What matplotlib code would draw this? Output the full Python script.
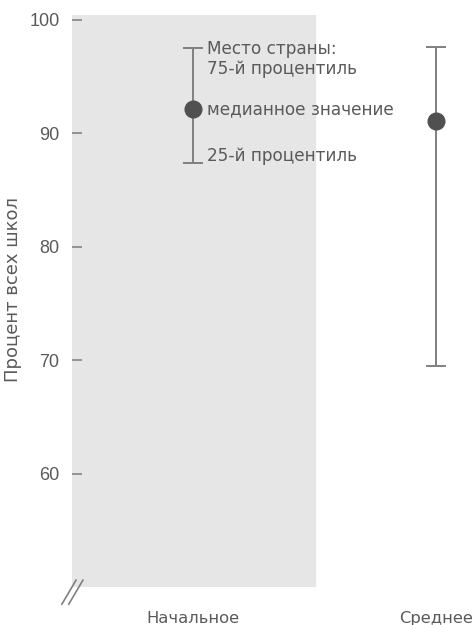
import matplotlib.pyplot as plt

plt.rcParams['font.family'] = ['Liberation Sans', 'DejaVu Sans']

levels = ['Начальное', 'Среднее']
p75 = [97.5, 97.6]
median = [92.1, 91.1]
p25 = [87.4, 69.5]

yticks = [60, 70, 80, 90, 100]

gray_text = '#5a5a5a'
gray_line = '#808080'
dot_color = '#505050'
wide = ['DejaVu Sans']

fig = plt.figure(figsize=(4.76, 6.25), dpi=100)
ax = fig.add_axes([72 / 476, 38 / 625, 404 / 476, 572 / 625])

x = list(range(len(levels)))

# shaded band behind the first category
ax.axvspan(-0.5, 0.5, color='#e6e6e6', zorder=0)

for i in x:
    ax.errorbar(i, median[i], yerr=[[median[i] - p25[i]], [p75[i] - median[i]]],
                fmt='o', color=gray_line, ecolor=gray_line, elinewidth=1.4,
                capsize=7.5, capthick=1.4, markersize=12,
                markerfacecolor=dot_color, markeredgecolor=dot_color, zorder=3)

# legend-like notes next to the first whisker
note = dict(textcoords='offset points', fontsize=12.2, color=gray_text,
            ha='left', va='center', family=wide)
ax.annotate('Место страны:', (0, p75[0]), xytext=(10, -0.5), **note)
ax.annotate('75-й процентиль', (0, p75[0]), xytext=(10, -15), **note)
ax.annotate('медианное значение', (0, median[0]), xytext=(10, 0), **note)
ax.annotate('25-й процентиль', (0, p25[0]), xytext=(10, 5), **note)

ax.set_xlim(-0.5, 1.165)
ax.set_ylim(50, 100.4)
ax.set_yticks(yticks)
ax.set_yticklabels([str(t) for t in yticks])
ax.set_xticks(x)
ax.set_xticklabels(levels, family=wide)

for s in ax.spines.values():
    s.set_visible(False)

ax.tick_params(axis='y', direction='in', length=7.5, width=1.3, color='#8c8c8c',
               labelsize=13, labelcolor=gray_text, pad=9)
ax.tick_params(axis='x', length=0, labelsize=11.8, labelcolor=gray_text, pad=17)

ax.set_ylabel('Процент всех школ', fontsize=13, color=gray_text, family=wide)
ax.yaxis.set_label_coords(-0.124, 0.52)

# axis break mark
for dx in (0, 0.017):
    ax.plot([-0.025 + dx, 0.01 + dx], [-0.03, 0.012], transform=ax.transAxes,
            color=gray_line, lw=1.2, clip_on=False)

fig.savefig('out.png', dpi=100)
